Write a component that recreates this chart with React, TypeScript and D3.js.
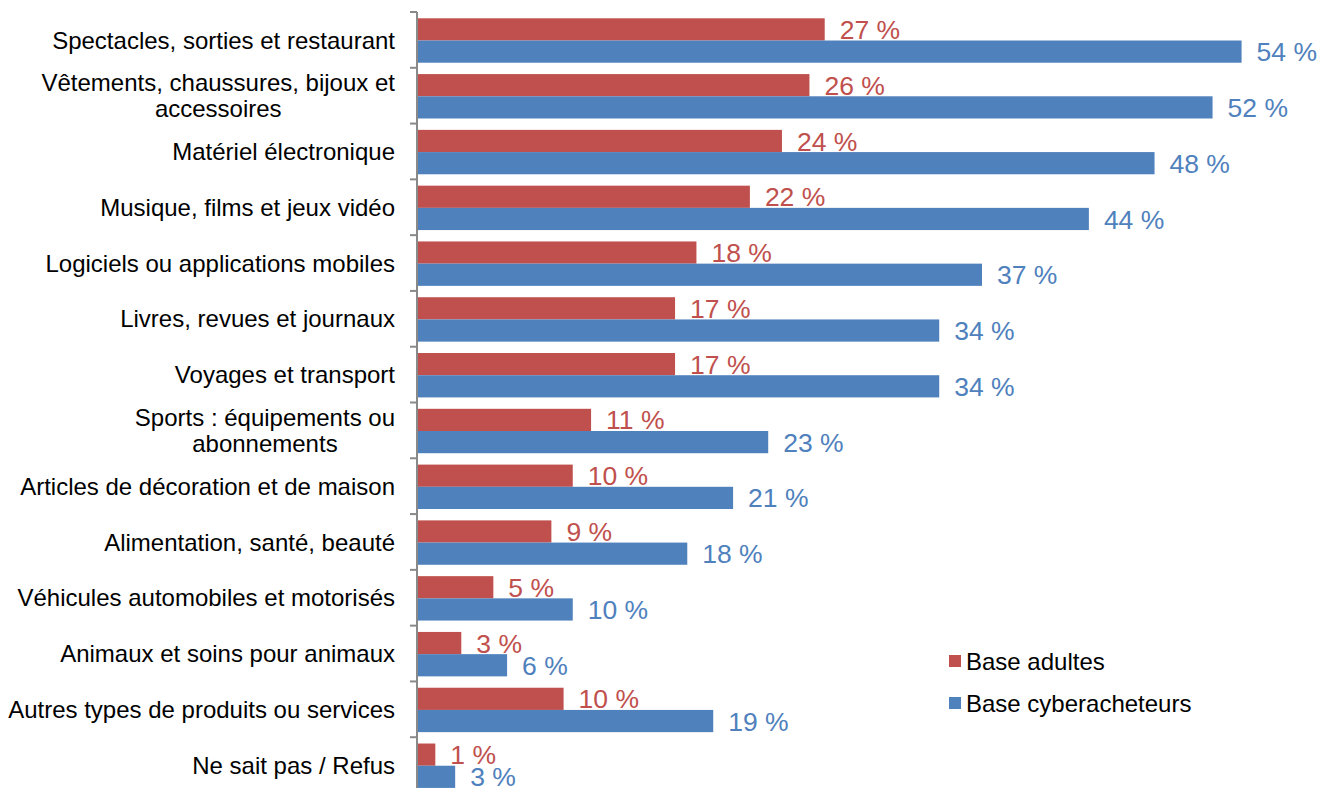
import React, { useEffect, useRef } from "react";
import * as d3 from "d3";

const categories = [
  "Spectacles, sorties et restaurant",
  "Vêtements, chaussures, bijoux et\naccessoires",
  "Matériel électronique",
  "Musique, films et jeux vidéo",
  "Logiciels ou applications mobiles",
  "Livres, revues et journaux",
  "Voyages et transport",
  "Sports : équipements ou\nabonnements",
  "Articles de décoration et de maison",
  "Alimentation, santé, beauté",
  "Véhicules automobiles et motorisés",
  "Animaux et soins pour animaux",
  "Autres types de produits ou services",
  "Ne sait pas / Refus",
];

const baseAdultes = [26.7, 25.7, 23.9, 21.8, 18.3, 16.9, 16.9, 11.4, 10.2, 8.8, 5.0, 2.9, 9.6, 1.2];
const baseCyber = [54.0, 52.1, 48.3, 44.0, 37.0, 34.2, 34.2, 23.0, 20.7, 17.7, 10.2, 5.9, 19.4, 2.5];

const seriesNames = ["Base adultes", "Base cyberacheteurs"];
const seriesColors = ["#C0504D", "#4F81BD"];

const W = 1321;
const H = 788;
const FONT = "'Liberation Sans', Arial, sans-serif";

export default function App() {
  const ref = useRef<SVGSVGElement | null>(null);

  useEffect(() => {
    const svg = d3.select(ref.current);
    svg.selectAll("*").remove();

    const x0 = 417;
    const x = d3.scaleLinear().domain([0, 60]).range([x0, x0 + 60 * 15.27]);
    const y = d3.scaleBand<string>().domain(categories).range([12, 793]).padding(0);
    const bw = y.bandwidth();
    const sub = d3
      .scaleBand<string>()
      .domain(seriesNames)
      .range([bw * 0.113, bw * 0.909])
      .padding(0);

    const series = [baseAdultes, baseCyber];

    // bars
    series.forEach((vals, si) => {
      const g = svg.append("g");
      g.selectAll("rect")
        .data(vals)
        .join("rect")
        .attr("x", x(0))
        .attr("y", (_d, i) => (y(categories[i]) as number) + (sub(seriesNames[si]) as number))
        .attr("width", (d) => x(d) - x(0))
        .attr("height", sub.bandwidth())
        .attr("fill", seriesColors[si]);

      g.selectAll("text")
        .data(vals)
        .join("text")
        .attr("x", (d) => x(d) + 15)
        .attr("y", (_d, i) => (y(categories[i]) as number) + (sub(seriesNames[si]) as number) + sub.bandwidth() / 2)
        .attr("dy", "0.36em")
        .attr("font-family", FONT)
        .attr("font-size", 26.5)
        .attr("fill", seriesColors[si])
        .text((d) => `${Math.round(d)} %`);
    });

    // axis line and ticks
    const ax = svg.append("g");
    ax.append("line")
      .attr("x1", x0)
      .attr("x2", x0)
      .attr("y1", 12)
      .attr("y2", 793)
      .attr("stroke", "#898989")
      .attr("stroke-width", 2);
    const bounds = categories.map((c) => y(c) as number).concat([793]);
    ax.selectAll("line.tick")
      .data(bounds)
      .join("line")
      .attr("class", "tick")
      .attr("x1", x0 - 7)
      .attr("x2", x0)
      .attr("y1", (d) => d)
      .attr("y2", (d) => d)
      .attr("stroke", "#898989")
      .attr("stroke-width", 2);

    // category labels
    const labelRight = 395;
    const lineH = 26;
    categories.forEach((c) => {
      const lines = c.split("\n");
      const cy = (y(c) as number) + bw / 2;
      const t = svg
        .append("text")
        .attr("font-family", FONT)
        .attr("font-size", 24)
        .attr("fill", "#000");
      lines.forEach((ln, li) => {
        t.append("tspan")
          .attr("y", cy + (li - (lines.length - 1) / 2) * lineH)
          .attr("dy", "0.36em")
          .text(ln);
      });
      if (lines.length === 1) {
        t.attr("text-anchor", "end");
        t.selectAll("tspan").attr("x", labelRight);
      } else {
        const widths: number[] = [];
        t.selectAll<SVGTSpanElement, unknown>("tspan").each(function () {
          widths.push(this.getComputedTextLength());
        });
        const maxW = d3.max(widths) || 0;
        t.attr("text-anchor", "middle");
        t.selectAll("tspan").attr("x", labelRight - maxW / 2);
      }
    });

    // legend
    const legY = [661, 703];
    seriesNames.forEach((n, i) => {
      svg.append("rect")
        .attr("x", 949)
        .attr("y", legY[i] - 6)
        .attr("width", 12)
        .attr("height", 12)
        .attr("fill", seriesColors[i]);
      svg.append("text")
        .attr("x", 966)
        .attr("y", legY[i])
        .attr("dy", "0.36em")
        .attr("font-family", FONT)
        .attr("font-size", 24)
        .attr("fill", "#000")
        .text(n);
    });
  }, []);

  return (
    <svg
      ref={ref}
      width={W}
      height={H}
      style={{ position: "absolute", left: 0, top: 0, background: "#fff" }}
    />
  );
}
